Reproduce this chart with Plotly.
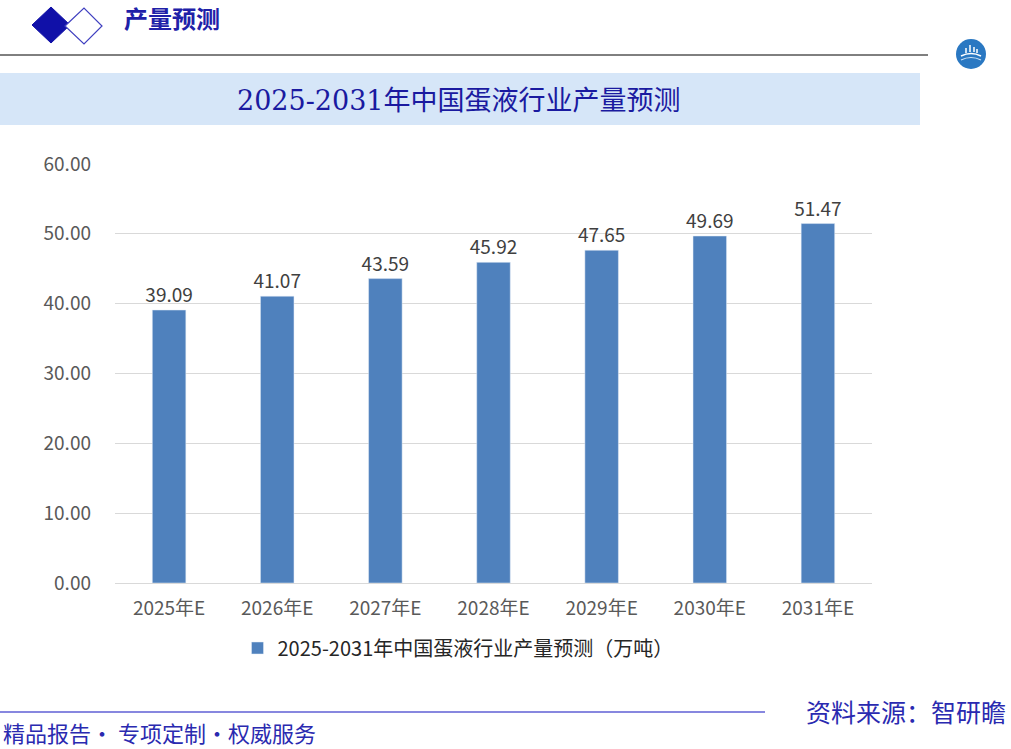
import plotly.graph_objects as go

years = ["2025年E", "2026年E", "2027年E", "2028年E", "2029年E", "2030年E", "2031年E"]
output = [39.09, 41.07, 43.59, 45.92, 47.65, 49.69, 51.47]
series_name = "2025-2031年中国蛋液行业产量预测（万吨）"

W, H = 1011, 749


def px(x):
    return x / W


def py(y):
    return 1 - y / H


sans = "'Noto Sans CJK SC', sans-serif"

fig = go.Figure(
    data=go.Bar(
        x=years,
        y=output,
        name=series_name,
        marker_color="#4f81bd",
        text=[f"{v:.2f}" for v in output],
        textposition="outside",
        textfont=dict(size=19, color="#404040", family=sans),
        constraintext="none",
        cliponaxis=False,
    )
)

fig.update_layout(
    width=W,
    height=H,
    margin=dict(l=0, r=0, t=0, b=0, autoexpand=False),
    paper_bgcolor="white",
    plot_bgcolor="white",
    font=dict(family=sans, color="#595959"),
    bargap=0.69,
    showlegend=True,
    legend=dict(
        x=px(458), y=py(648), xanchor="center", yanchor="middle",
        orientation="h", font=dict(size=20, color="#262626"),
    ),
    xaxis=dict(
        domain=[px(115), px(872)],
        showline=True, linecolor="#d9d9d9",
        tickfont=dict(size=19, color="#595959"),
        ticks="",
        ticklabelstandoff=8,
    ),
    yaxis=dict(
        domain=[py(583), py(164)],
        range=[0, 60], dtick=10, tickformat=".2f",
        showgrid=True, gridcolor="#d9d9d9",
        zeroline=False,
        tickfont=dict(size=19, color="#595959"),
        ticklabelstandoff=23,
    ),
)

shapes = [
    # header line
    dict(type="line", x0=px(0), x1=px(928), y0=py(55), y1=py(55), line=dict(color="#000000", width=1)),
    # filled diamond
    dict(type="path", path=f"M {px(32)},{py(25)} L {px(51)},{py(7)} L {px(70)},{py(25)} L {px(51)},{py(43)} Z",
         fillcolor="#1010a8", line=dict(color="#1010a8", width=1)),
    # outline diamond
    dict(type="path", path=f"M {px(65)},{py(26)} L {px(84)},{py(8)} L {px(102)},{py(26)} L {px(84)},{py(44)} Z",
         fillcolor="white", line=dict(color="#4040c0", width=1.2)),
    # title band
    dict(type="rect", x0=px(0), x1=px(920), y0=py(125), y1=py(73), fillcolor="#d6e6f8", line=dict(width=0), layer="below"),
    # logo
    dict(type="circle", x0=px(956), x1=px(986), y0=py(69), y1=py(39), fillcolor="#2a78c2", line=dict(width=0)),
    dict(type="path", path=f"M {px(961)},{py(56)} Q {px(971)},{py(51)} {px(981)},{py(56)}",
         line=dict(color="white", width=1.5)),
    dict(type="path", path=f"M {px(961)},{py(60)} Q {px(971)},{py(55)} {px(981)},{py(60)}",
         line=dict(color="#cfe3f5", width=1.2)),
    dict(type="path", path=f"M {px(966)},{py(53)} L {px(966)},{py(48)} M {px(970)},{py(52)} L {px(970)},{py(45)} "
                          f"M {px(974)},{py(52)} L {px(974)},{py(47)} M {px(977)},{py(53)} L {px(977)},{py(49)}",
         line=dict(color="white", width=1.5)),
    # footer line
    dict(type="line", x0=px(0), x1=px(765), y0=py(712), y1=py(712), line=dict(color="#1010c0", width=1.2)),
]
for s in shapes:
    s["xref"] = "paper"
    s["yref"] = "paper"
fig.update_layout(shapes=shapes)

annotations = [
    dict(text="<b>产量预测</b>", x=px(122), y=py(17), xanchor="left", yanchor="middle",
         font=dict(size=24, color="#2020a8", family="'Noto Sans CJK SC', serif")),
    dict(text="2025-2031年中国蛋液行业产量预测", x=px(459), y=py(100), xanchor="center", yanchor="middle",
         font=dict(size=27, color="#1a1aa0", family="'DejaVu Serif', 'Noto Sans CJK SC', serif")),
    dict(text="精品报告· 专项定制·权威服务", x=px(1), y=py(732), xanchor="left", yanchor="middle",
         font=dict(size=22, color="#2a2ab0", family=sans)),
    dict(text="资料来源：智研瞻", x=px(1008), y=py(711), xanchor="right", yanchor="middle",
         font=dict(size=25, color="#2a2ab0", family=sans)),
]
for a in annotations:
    a["xref"] = "paper"
    a["yref"] = "paper"
    a["showarrow"] = False
fig.update_layout(annotations=annotations)

# drop the page's default body margin so the figure sits at the window's top-left
fig.write_html(
    "out.html",
    config={"displayModeBar": False},
    post_script="document.body.style.margin='0';",
)
